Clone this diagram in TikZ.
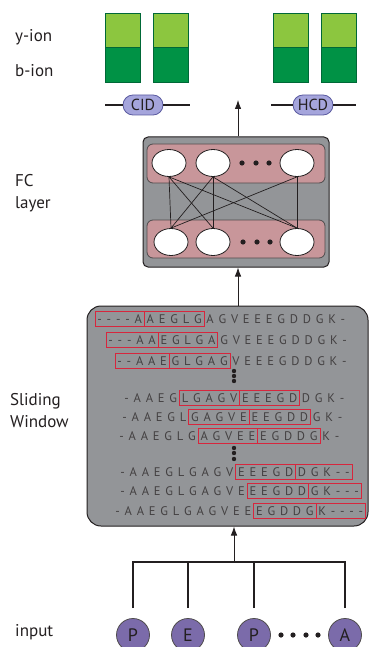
\documentclass[tikz,border=0pt]{standalone}
\usepackage{fontspec}
\setmainfont{PT Sans}
\usetikzlibrary{shapes.geometric, arrows.meta, positioning, fit}

\definecolor{ionlight}{HTML}{8CC63F}
\definecolor{iondark}{HTML}{009245}
\definecolor{ionedge}{HTML}{006837}
\definecolor{pillfill}{HTML}{A5A5DC}
\definecolor{pilledge}{HTML}{5A5AA0}
\definecolor{boxgray}{HTML}{939598}
\definecolor{bandpink}{HTML}{C8969A}
\definecolor{winred}{HTML}{D7263D}
\definecolor{aafill}{HTML}{7B6BAA}
\definecolor{inkdark}{HTML}{231F20}

\begin{document}
\begin{tikzpicture}[x=1pt, y=-1pt,
    sidetext/.style={font=\fontsize{17}{22}\selectfont, text=inkdark, anchor=west, align=left, inner sep=0},
    pill/.style={draw=pilledge, fill=pillfill, rounded corners=10pt, minimum width=40pt, minimum height=20pt, inner sep=1.5pt, font=\fontsize{16}{16}\selectfont, text=inkdark, line width=0.8pt},
    fcbox/.style={draw=inkdark, fill=boxgray, rounded corners=5pt, line width=1pt},
    band/.style={draw=inkdark!80, fill=bandpink, rounded corners=6pt, line width=0.8pt, minimum width=178pt},
    neuron/.style={ellipse, draw=inkdark, fill=white, minimum width=34pt, minimum height=27pt, inner sep=0, line width=0.8pt},
    seqch/.style={inner xsep=2.2pt, inner ysep=0, text height=9.5pt, text depth=0pt, minimum height=15pt, font=\fontsize{12.5}{14}\selectfont, text=inkdark!85},
    winbox/.style={draw=winred, line width=1pt, inner sep=0},
    aa/.style={circle, draw=inkdark!80, fill=aafill, minimum size=33pt, inner sep=0, font=\fontsize{18}{20}\selectfont, text=inkdark, line width=0.8pt},
    wire/.style={line width=1.6pt, draw=inkdark},
    link/.style={line width=0.7pt, draw=inkdark},
    arr/.style={-{Latex[length=9pt, width=6.5pt]}, line width=0.8pt, draw=inkdark, fill=inkdark},
    dotfill/.style={fill=inkdark}
]
\useasboundingbox (0,0) rectangle (369,647);

% Side labels
\node[sidetext] (yion) at (15,37) {y-ion};
\node[sidetext] (bion) at (15,71) {b-ion};
\node[sidetext] (fclab) at (15,193) {FC\\layer};
\node[sidetext] (swlab) at (10,411) {Sliding\\Window};
\node[sidetext] (inlab) at (15,632) {input};

% Ion bars
\foreach \bx in {105,153,273,321} {
  \fill[ionlight] (\bx,13) rectangle ++(35,34);
  \fill[iondark] (\bx,47) rectangle ++(35,35);
  \draw[ionedge, line width=0.6pt] (\bx,13) rectangle ++(35,69) (\bx,47) -- ++(35,0);
}

% Fragmentation types
\node[pill] (cid) at (143,105) {CID};
\node[pill] (hcd) at (313,105) {HCD};
\coordinate (cidl) at (105,105);
\coordinate (cidr) at (190,105);
\coordinate (hcdl) at (271,105);
\coordinate (hcdr) at (356,105);
\draw[wire] (cidl) -- (cid.west);
\draw[wire] (cid.east) -- (cidr);
\draw[wire] (hcdl) -- (hcd.west);
\draw[wire] (hcd.east) -- (hcdr);

% FC layer
\node[fcbox, minimum width=186pt, minimum height=130pt] (fc) at (236,202) {};
\node[band, minimum height=39pt] (topband) at (236,163.5) {};
\node[band, minimum height=38pt] (botband) at (236,239) {};
\foreach \n/\x in {1/169,2/213,3/297}
  \node[neuron] (t\n) at (\x,163) {};
\foreach \n/\x in {1/171,2/213,3/297}
  \node[neuron] (b\n) at (\x,242) {};
\foreach \s/\e in {1/1,1/2,1/3,2/1,2/2,2/3,3/1,3/3}
  \draw[link] (t\s.south) -- (b\e.north);
\foreach \x in {242,256,269} {
  \fill[dotfill] (\x,163) circle (2.6pt);
  \fill[dotfill] (\x+1,242) circle (2.6pt);
}
\coordinate (outtip) at (238,100);
\draw[arr] (fc.north -| outtip) -- (outtip);

% Sliding window
\node[fcbox, rounded corners=14pt, minimum width=281pt, minimum height=220pt] (sw) at (227.5,416) {};
\draw[arr] (sw.north -| outtip) -- (fc.south -| outtip);

\foreach \r/\y/\x/\seq/\wa in {
  1/319/95/{-,-,-,-,A,A,E,G,L,G,A,G,V,E,E,E,G,D,D,G,K,-}/1,
  2/340/106/{-,-,-,A,A,E,G,L,G,A,G,V,E,E,E,G,D,D,G,K,-}/1,
  3/361/115/{-,-,A,A,E,G,L,G,A,G,V,E,E,E,G,D,D,G,K,-}/1,
  4/398/122/{-,A,A,E,G,L,G,A,G,V,E,E,E,G,D,D,G,K,-}/6,
  5/417/120/{-,A,A,E,G,L,G,A,G,V,E,E,E,G,D,D,G,K,-}/7,
  6/436/117/{-,A,A,E,G,L,G,A,G,V,E,E,E,G,D,D,G,K,-}/8,
  7/472/118/{-,A,A,E,G,L,G,A,G,V,E,E,E,G,D,D,G,K,-,-}/11,
  8/491/118/{-,A,A,E,G,L,G,A,G,V,E,E,E,G,D,D,G,K,-,-,-}/12,
  9/511/113/{-,A,A,E,G,L,G,A,G,V,E,E,E,G,D,D,G,K,-,-,-,-}/13} {
  \coordinate (r\r-0) at (\x,\y);
  \foreach \c [count=\i, evaluate=\i as \j using int(\i-1)] in \seq
    \node[seqch, right=0pt of r\r-\j] (r\r-\i) {\c};
  \pgfmathtruncatemacro\wend{\wa+4}
  \pgfmathtruncatemacro\wnext{\wa+5}
  \pgfmathtruncatemacro\wlast{\wa+9}
  \node[winbox, fit=(r\r-\wa)(r\r-\wend)] (wa\r) {};
  \node[winbox, fit=(r\r-\wnext)(r\r-\wlast)] (wb\r) {};
}
\foreach \y in {371,376,381,448,453,459}
  \fill[dotfill] (234,\y) circle (2.2pt);

% Input residues
\foreach \n/\x/\t in {1/133/P,2/188/E,3/254/P,4/345/A}
  \node[aa] (in\n) at (\x,635) {\t};
\foreach \x in {281,293,306,318}
  \fill[dotfill] (\x,635) circle (2.6pt);
\coordinate (bus) at (234,562);
\draw[wire, shorten <=10pt] (in1.north) |- (bus);
\draw[wire, shorten <=10pt] (in4.north) |- (bus);
\draw[wire, shorten <=10pt] (in2.north) -- (in2.north |- bus);
\draw[wire, shorten <=10pt] (in3.north) -- (in3.north |- bus);
\draw[arr] (bus) -- (bus |- sw.south);
\end{tikzpicture}
\end{document}
